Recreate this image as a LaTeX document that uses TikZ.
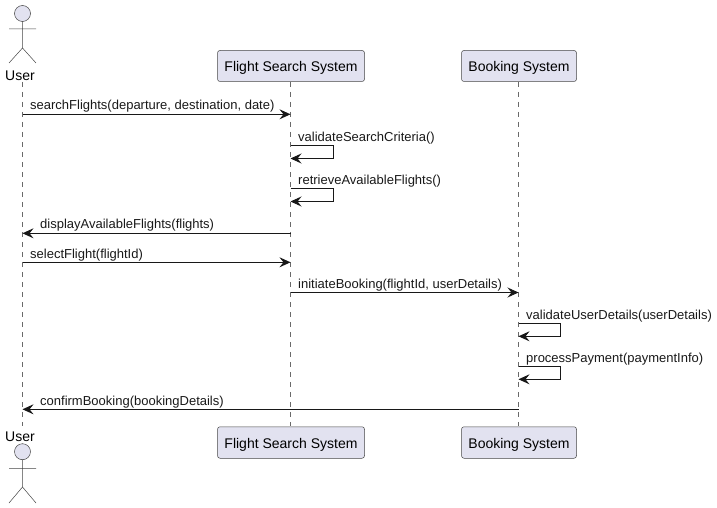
\documentclass[tikz,border=0pt]{standalone}
\usepackage{fontspec}
\setmainfont{Liberation Sans}
\usetikzlibrary{arrows.meta}
\definecolor{pfill}{HTML}{E2E2F0}
\definecolor{pline}{HTML}{181818}
\tikzset{
  part/.style={draw=pline!80,line width=0.5pt,fill=pfill,rounded corners=2.5pt,inner sep=0pt,font=\fontsize{14}{16}\selectfont,text=black,anchor=center},
  life/.style={draw=pline!65,line width=0.5pt,dash pattern=on 5pt off 5pt},
  msg/.style={draw=pline,line width=1pt,-{Stealth[length=11pt,width=10pt,inset=4pt,color=pline]}},
  lab/.style={font=\fontsize{13}{15}\selectfont,anchor=base west,inner sep=0pt,text=black!90},
  actorlab/.style={font=\fontsize{14}{16}\selectfont,anchor=base,inner sep=0pt,text=black},
  actorline/.style={draw=pline!80,line width=0.5pt},
}
\newcommand{\parttext}[1]{\raisebox{-5.5pt}[0pt][0pt]{#1}}
\begin{document}
\begin{tikzpicture}[x=1pt,y=-1pt]
\useasboundingbox (0,0) rectangle (717,508);
\fill[white] (0,0) rectangle (717,508);
% lifeline ends
\coordinate (ut) at (22.5,82); \coordinate (ub) at (22.5,426);
\coordinate (ft) at (290.5,82); \coordinate (fb) at (290.5,426);
\coordinate (bt) at (518.5,82); \coordinate (bb) at (518.5,426);
\draw[life] (ut) -- (ub);
\draw[life] (ft) -- (fb);
\draw[life] (bt) -- (bb);
% participants
\node[part,minimum width=147pt,minimum height=31pt] (f1) at (291,66) {\parttext{Flight Search System}};
\node[part,minimum width=115pt,minimum height=31pt] (b1) at (519,66) {\parttext{Booking System}};
\node[part,minimum width=147pt,minimum height=31.5pt] (f2) at (291,442.5) {\parttext{Flight Search System}};
\node[part,minimum width=115pt,minimum height=31.5pt] (b2) at (519,442.5) {\parttext{Booking System}};
% actors
\node[actorlab] (u1) at (20,80.5) {User};
\node[actorlab] (u2) at (20,441) {User};
\draw[actorline,fill=pfill] (22.5,13.5) circle (8pt);
\draw[actorline] (22.5,21.5) -- (22.5,48) (9,29) -- (36,29) (9,63) -- (22.5,48) -- (36,63);
\draw[actorline,fill=pfill] (22.5,451.7) circle (8pt);
\draw[actorline] (22.5,459.7) -- (22.5,487) (9,468.7) -- (36,468.7) (9,503) -- (22.5,487) -- (36,503);
% message anchors
\foreach \n/\y in {a/114.3,b/145.3,bb/158.5,c/188.3,cc/201.5,d/233.3,e/262.3,g/292.5,h/323.3,hh/336.3,i/366.5,ii/379.3,j/409.3}{
  \coordinate (u\n) at (22.5,\y);
  \coordinate (f\n) at (290.5,\y);
  \coordinate (s\n) at (518.5,\y);
}
\coordinate (fxb) at (333.3,145.3); \coordinate (fxbb) at (333.3,158.5);
\coordinate (fxc) at (333.3,188.3); \coordinate (fxcc) at (333.3,201.5);
\coordinate (sxh) at (560.5,323.3); \coordinate (sxhh) at (560.5,336.3);
\coordinate (sxi) at (560.5,366.5); \coordinate (sxii) at (560.5,379.3);
% messages
\draw[msg] (ua) -- (fa);
\draw[msg] (fb) -- (fxb) -- (fxbb) -- (fbb);
\draw[msg] (fc) -- (fxc) -- (fxcc) -- (fcc);
\draw[msg] (fd) -- (ud);
\draw[msg] (ue) -- (fe);
\draw[msg] (fg) -- (sg);
\draw[msg] (sh) -- (sxh) -- (sxhh) -- (shh);
\draw[msg] (si) -- (sxi) -- (sxii) -- (sii);
\draw[msg] (sj) -- (uj);
% labels
\node[lab] (t1) at (30,110) {searchFlights(departure, destination, date)};
\node[lab] (t2) at (298,141) {validateSearchCriteria()};
\node[lab] (t3) at (298,184) {retrieveAvailableFlights()};
\node[lab] (t4) at (40,228) {displayAvailableFlights(flights)};
\node[lab] (t5) at (30,258) {selectFlight(flightId)};
\node[lab] (t6) at (298,288) {initiateBooking(flightId, userDetails)};
\node[lab] (t7) at (526,319) {validateUserDetails(userDetails)};
\node[lab] (t8) at (526,362) {processPayment(paymentInfo)};
\node[lab] (t9) at (40,405) {confirmBooking(bookingDetails)};
\end{tikzpicture}
\end{document}
